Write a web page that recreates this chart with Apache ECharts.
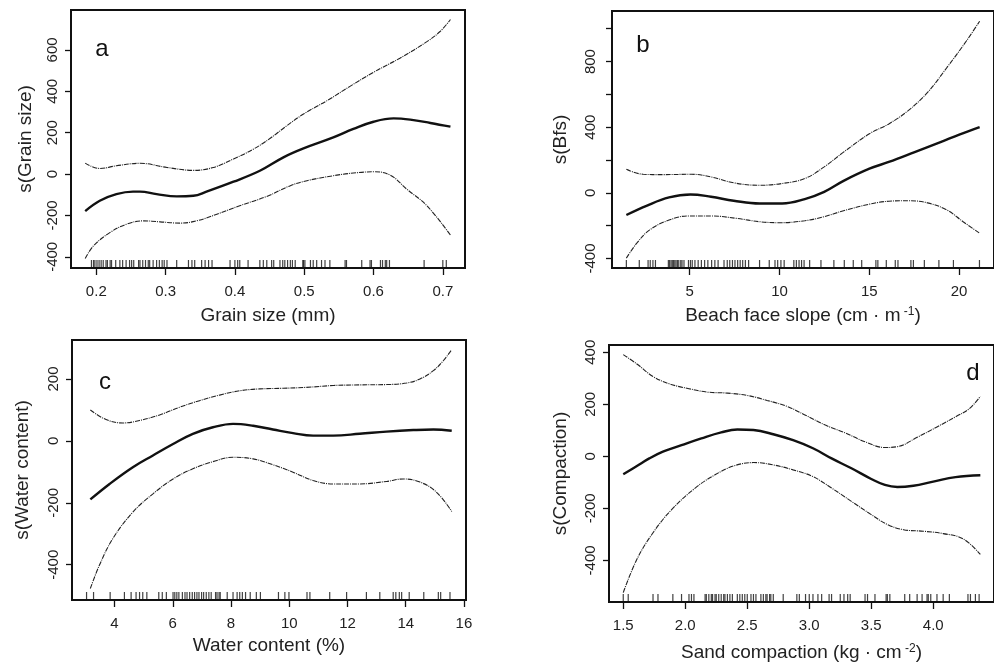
<!DOCTYPE html>
<html>
<head>
<meta charset="utf-8">
<script src="https://cdn.jsdelivr.net/npm/echarts@6/dist/echarts.min.js"></script>
<style>
html, body { margin: 0; padding: 0; background: #fff; }
#chart { width: 994px; height: 666px; }
</style>
</head>
<body>
<div id="chart"></div>
<script>
// panel a - grain size
var grainFit = [[0.184,-179],[0.205,-129],[0.229,-97],[0.253,-85],[0.263,-85],[0.287,-97],[0.316,-108],[0.340,-105],[0.359,-85],[0.398,-37],[0.436,16],[0.470,81],[0.499,124],[0.542,177],[0.571,218],[0.600,253],[0.629,269],[0.653,263],[0.682,247],[0.711,229]];
var grainUpper = [[0.184,53],[0.205,27],[0.229,40],[0.263,52],[0.302,32],[0.340,18],[0.369,32],[0.398,73],[0.427,121],[0.451,173],[0.475,234],[0.499,290],[0.533,355],[0.566,424],[0.600,492],[0.638,560],[0.677,640],[0.696,689],[0.711,747]];
var grainLower = [[0.184,-408],[0.196,-347],[0.220,-282],[0.244,-242],[0.268,-226],[0.292,-231],[0.321,-237],[0.345,-226],[0.374,-194],[0.407,-153],[0.446,-108],[0.480,-56],[0.504,-32],[0.542,-8],[0.571,5],[0.600,11],[0.624,-5],[0.648,-73],[0.677,-153],[0.711,-295]];
var grainRug = [0.193,0.196,0.198,0.201,0.204,0.207,0.210,0.214,0.216,0.220,0.222,0.228,0.234,0.238,0.243,0.248,0.251,0.254,0.261,0.263,0.267,0.271,0.275,0.277,0.282,0.287,0.291,0.295,0.298,0.302,0.316,0.333,0.338,0.342,0.352,0.357,0.362,0.367,0.393,0.400,0.404,0.407,0.419,0.436,0.441,0.446,0.453,0.456,0.465,0.469,0.472,0.476,0.480,0.483,0.487,0.498,0.499,0.501,0.509,0.513,0.518,0.525,0.530,0.537,0.559,0.561,0.583,0.595,0.597,0.610,0.613,0.617,0.619,0.623,0.673,0.700,0.705];

// panel b - beach face slope
var slopeFit = [[1.47,-135],[2.59,-79],[3.85,-28],[5.04,-10],[6.19,-24],[7.45,-48],[8.89,-65],[10.15,-65],[11.41,-38],[12.49,6],[13.57,73],[15.01,147],[16.09,188],[17.53,248],[18.97,309],[20.05,356],[21.15,400]];
var slopeUpper = [[1.47,143],[2.41,113],[3.49,111],[5.11,113],[6.19,97],[7.45,61],[8.89,46],[10.15,57],[11.41,87],[12.49,158],[13.57,248],[15.01,360],[16.09,420],[17.17,501],[18.25,612],[19.33,764],[20.41,925],[21.15,1046]];
var slopeLower = [[1.47,-398],[2.05,-307],[2.77,-226],[3.85,-166],[4.93,-141],[6.19,-141],[7.63,-156],[8.89,-176],[9.97,-182],[11.41,-170],[12.49,-145],[13.57,-109],[15.01,-69],[16.09,-51],[17.17,-48],[18.25,-61],[19.33,-105],[20.23,-176],[21.15,-246]];
var slopeRug = [1.47,2.19,2.68,2.80,2.95,3.09,3.81,3.88,3.96,4.03,4.10,4.17,4.24,4.32,4.39,4.50,4.57,4.68,4.93,5.04,5.14,5.29,5.47,5.65,5.83,6.01,6.22,6.40,6.58,6.91,7.09,7.23,7.38,7.52,7.67,7.81,7.95,8.10,8.28,8.89,9.43,9.75,9.90,10.08,10.26,10.80,10.94,11.09,11.23,11.37,11.68,12.31,13.03,13.61,14.11,14.58,15.37,15.48,15.95,16.45,16.60,17.32,17.46,18.07,18.88,19.69,21.14];

// panel c - water content
var waterFit = [[3.17,-189],[3.83,-139],[4.63,-85],[5.32,-47],[6.01,-10],[6.69,23],[7.38,44],[8.07,55],[8.76,49],[9.44,37],[10.13,25],[10.82,17],[11.51,17],[12.42,23],[13.34,30],[14.26,35],[14.95,37],[15.58,33]];
var waterUpper = [[3.17,100],[3.71,69],[4.29,58],[4.86,66],[5.55,84],[6.24,109],[6.92,130],[7.61,148],[8.30,162],[8.99,168],[9.79,170],[10.59,173],[11.51,179],[12.42,181],[13.34,182],[14.03,187],[14.49,200],[14.95,227],[15.29,259],[15.58,295]];
var waterLower = [[3.17,-477],[3.48,-402],[3.94,-316],[4.63,-230],[5.32,-171],[6.01,-123],[6.69,-90],[7.38,-67],[8.07,-53],[8.76,-58],[9.44,-77],[10.13,-101],[10.82,-128],[11.51,-139],[12.42,-139],[13.34,-131],[13.91,-123],[14.49,-133],[15.06,-166],[15.58,-228]];
var waterRug = [3.04,3.28,3.85,4.34,4.57,4.74,4.86,4.97,5.11,5.52,5.64,5.78,6.01,6.07,6.14,6.21,6.33,6.42,6.49,6.58,6.67,6.75,6.83,6.90,6.99,7.06,7.15,7.24,7.32,7.47,7.52,7.59,7.63,7.87,8.07,8.21,8.30,8.39,8.50,8.66,8.87,9.01,9.63,9.85,9.99,10.61,10.71,11.39,11.97,12.65,13.11,13.57,13.66,13.78,13.86,14.12,14.62,15.12,15.20,15.52];

// panel d - sand compaction
var compFit = [[1.50,-69],[1.61,-37],[1.71,-8],[1.82,18],[1.97,43],[2.13,69],[2.29,92],[2.42,103],[2.55,101],[2.71,85],[2.87,62],[3.03,31],[3.18,-8],[3.34,-46],[3.50,-87],[3.61,-110],[3.71,-118],[3.84,-113],[4.00,-97],[4.18,-80],[4.38,-73]];
var compUpper = [[1.50,391],[1.61,355],[1.74,307],[1.87,279],[2.03,260],[2.18,247],[2.34,243],[2.50,234],[2.66,215],[2.82,192],[2.97,158],[3.13,120],[3.29,90],[3.45,56],[3.61,34],[3.71,37],[3.87,73],[4.03,113],[4.18,152],[4.29,183],[4.38,231]];
var compLower = [[1.50,-524],[1.61,-396],[1.74,-294],[1.89,-205],[2.08,-122],[2.24,-71],[2.39,-37],[2.55,-24],[2.71,-33],[2.87,-52],[3.03,-78],[3.18,-122],[3.34,-173],[3.50,-224],[3.63,-262],[3.76,-282],[3.92,-288],[4.08,-297],[4.24,-317],[4.38,-377]];
var compRug = [1.50,1.54,1.74,1.78,1.90,1.97,2.03,2.05,2.07,2.16,2.17,2.19,2.21,2.22,2.24,2.25,2.27,2.29,2.31,2.32,2.34,2.36,2.38,2.42,2.44,2.46,2.48,2.50,2.53,2.55,2.57,2.61,2.63,2.65,2.66,2.68,2.69,2.71,2.79,2.90,2.92,2.97,3.00,3.03,3.07,3.10,3.16,3.18,3.25,3.28,3.31,3.33,3.45,3.47,3.53,3.62,3.63,3.65,3.77,3.81,3.87,3.91,3.95,3.96,3.98,4.03,4.08,4.13,4.28,4.30,4.34,4.37];

// tick positions
var grainTicks = [0.2, 0.3, 0.4, 0.5, 0.6, 0.7];
var grainYTicks = [-400, -200, 0, 200, 400, 600];
var slopeTicks = [5, 10, 15, 20];
var slopeYTicks = [-400, -200, 0, 200, 400, 600, 800, 1000];
var slopeYLabels = [-400, 0, 400, 800];
var waterTicks = [4, 6, 8, 10, 12, 14, 16];
var waterYTicks = [-400, -200, 0, 200];
var compTicks = [1.5, 2.0, 2.5, 3.0, 3.5, 4.0];
var compYTicks = [-400, -200, 0, 200, 400];

var FONT = "'Liberation Sans', Arial, sans-serif";
var INK = '#111';

var panels = [
  { grid: {left: 71, top: 10, width: 394, height: 258},
    x: [0.1635, 0.732], y: [-454, 793],
    xt: grainTicks, yt: grainYTicks, yl: grainYTicks, dec: 1,
    xName: 'Grain size (mm)', yName: 's(Grain size)', xGap: 38, yGap: 36, yMargin: 11,
    fit: grainFit, up: grainUpper, lo: grainLower, rug: grainRug },
  { grid: {left: 612, top: 11, width: 393, height: 257},
    x: [0.67, 21.95], y: [-458, 1108],
    xt: slopeTicks, yt: slopeYTicks, yl: slopeYLabels, dec: 0,
    xName: '{n|Beach face slope (cm · m}{s| -1}{n|)}', yName: 's(Bfs)', xGap: 38, yGap: 42, yMargin: 14,
    fit: slopeFit, up: slopeUpper, lo: slopeLower, rug: slopeRug },
  { grid: {left: 72, top: 340, width: 394, height: 260},
    x: [2.54, 16.07], y: [-514, 326],
    xt: waterTicks, yt: waterYTicks, yl: waterYTicks, dec: 0,
    xName: 'Water content (%)', yName: 's(Water content)', xGap: 36, yGap: 40, yMargin: 11,
    fit: waterFit, up: waterUpper, lo: waterLower, rug: waterRug },
  { grid: {left: 609, top: 345, width: 393, height: 257},
    x: [1.385, 4.49], y: [-560, 428],
    xt: compTicks, yt: compYTicks, yl: compYTicks, dec: 1,
    xName: '{n|Sand compaction (kg · cm}{s| -2}{n|)}', yName: 's(Compaction)', xGap: 41, yGap: 39, yMargin: 11,
    fit: compFit, up: compUpper, lo: compLower, rug: compRug }
];

var grids = [], xAxes = [], yAxes = [], series = [];
panels.forEach(function (p, i) {
  grids.push(Object.assign({show: true, borderColor: INK, borderWidth: 2, backgroundColor: 'transparent'}, p.grid));
  xAxes.push({
    type: 'value', gridIndex: i, min: p.x[0], max: p.x[1],
    axisLine: {show: true, onZero: false, lineStyle: {color: INK, width: 2}}, splitLine: {show: false},
    axisTick: {show: true, length: 7, lineStyle: {color: INK, width: 1.3}, customValues: p.xt},
    axisLabel: {margin: 16, fontSize: 15, color: '#222', fontFamily: FONT, customValues: p.xt,
      formatter: (function (d) { return function (v) { return v.toFixed(d); }; })(p.dec)},
    name: p.xName, nameLocation: 'middle', nameGap: p.xGap,
    nameTextStyle: {fontSize: 19, color: '#222', fontFamily: FONT,
      rich: {n: {fontSize: 19, color: '#222', fontFamily: FONT},
             s: {fontSize: 12, color: '#222', fontFamily: FONT, verticalAlign: 'top'}}}
  });
  yAxes.push({
    type: 'value', gridIndex: i, min: p.y[0], max: p.y[1],
    axisLine: {show: true, onZero: false, lineStyle: {color: INK, width: 2}}, splitLine: {show: false},
    axisTick: {show: true, length: 6, lineStyle: {color: INK, width: 1.3}, customValues: p.yt},
    axisLabel: {margin: p.yMargin, rotate: 90, fontSize: 15, color: '#222', fontFamily: FONT, customValues: p.yl},
    name: p.yName, nameLocation: 'middle', nameGap: p.yGap,
    nameTextStyle: {fontSize: 19, color: '#222', fontFamily: FONT}
  });
  series.push({
    type: 'line', xAxisIndex: i, yAxisIndex: i, data: p.fit, smooth: 0.4,
    showSymbol: false, silent: true, lineStyle: {color: '#111', width: 2.4}
  });
  [p.up, p.lo].forEach(function (band) {
    series.push({
      type: 'line', xAxisIndex: i, yAxisIndex: i, data: band, smooth: 0.4,
      showSymbol: false, silent: true, lineStyle: {color: '#222', width: 1.1, type: [5, 1, 1, 1]}
    });
  });
  series.push({
    type: 'scatter', xAxisIndex: i, yAxisIndex: i, silent: true, clip: false,
    data: p.rug.map(function (v) { return [v, p.y[0]]; }),
    symbol: 'rect', symbolSize: [1.2, 8], symbolOffset: [0, -4],
    itemStyle: {color: '#111'}
  });
});

var letters = [
  {text: 'a', x: 102, y: 49},
  {text: 'b', x: 643, y: 45},
  {text: 'c', x: 105, y: 382},
  {text: 'd', x: 973, y: 373}
];

var chart = echarts.init(document.getElementById('chart'));
chart.setOption({
  animation: false,
  backgroundColor: '#fff',
  grid: grids,
  xAxis: xAxes,
  yAxis: yAxes,
  series: series,
  graphic: letters.map(function (l) {
    return {type: 'text', x: l.x, y: l.y, silent: true,
      style: {text: l.text, font: '24px ' + FONT, fill: '#111', align: 'center', verticalAlign: 'middle'}};
  })
});
</script>
</body>
</html>
